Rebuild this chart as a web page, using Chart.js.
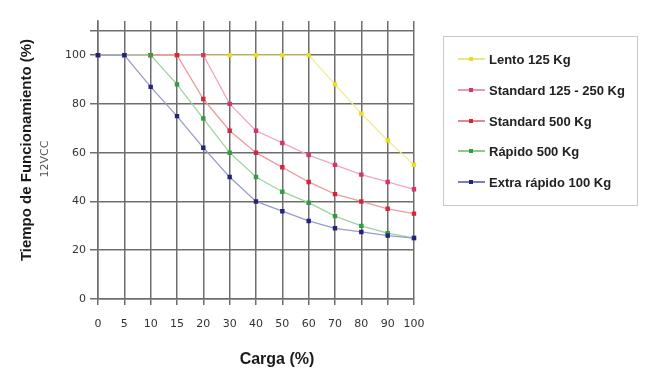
<!DOCTYPE html>
<html>
<head>
<meta charset="utf-8">
<script src="https://cdn.jsdelivr.net/npm/chart.js@4"></script>
<style>
  body { margin: 0; background: #fff; }
  #wrap { position: relative; width: 650px; height: 381px; }
  #legend {
    position: absolute; left: 443px; top: 36px; width: 195px; height: 170px;
    border: 1px solid #c8c8c8; box-sizing: border-box;
    font: bold 13px "Liberation Sans", Arial, sans-serif; color: #222;
  }
  .item { position: absolute; left: 14px; height: 16px; display: flex; align-items: center; }
  .mark { position: relative; width: 27px; height: 16px; margin-right: 4px; }
  .mark .ln { position: absolute; left: 0; right: 0; top: 7px; height: 2px; }
  .mark .dot { position: absolute; left: 11px; top: 6px; width: 4px; height: 4px; }
</style>
</head>
<body>
<div id="wrap">
  <canvas id="chart" width="650" height="381"></canvas>
  <div id="legend"></div>
</div>
<script>
// carga (%) categories
const cargaLabels = ['0', '5', '10', '15', '20', '30', '40', '50', '60', '70', '80', '90', '100'];

// tiempo de funcionamiento (%) per series
const lento125 = [100, 100, 100, 100, 100, 100, 100, 100, 100, 88, 76, 65, 55];
const standard125_250 = [100, 100, 100, 100, 100, 80, 69, 64, 59, 55, 51, 48, 45];
const standard500 = [100, 100, 100, 100, 82, 69, 60, 54, 48, 43, 40, 37, 35];
const rapido500 = [100, 100, 100, 88, 74, 60, 50, 44, 39.5, 34, 30, 27, 25];
const extraRapido100 = [100, 100, 87, 75, 62, 50, 40, 36, 32, 29, 27.5, 26, 25];

const yTicks = [0, 20, 40, 60, 80, 100];

const seriesNames = ['Lento 125 Kg', 'Standard 125 - 250 Kg', 'Standard 500 Kg', 'Rápido 500 Kg', 'Extra rápido 100 Kg'];
const seriesData = [lento125, standard125_250, standard500, rapido500, extraRapido100];
const lineColors = ['#f2ec8c', '#f2a6c4', '#ef9aa0', '#9fd39f', '#9a9ad0'];
const pointColors = ['#f0dc1e', '#d6336f', '#d8243a', '#2f9e3f', '#23237e'];
const legendLineColors = ['#ece684', '#e49ab8', '#e08890', '#90c890', '#7c7cbc'];

const gridColor = '#6e6e6e';

// extra texts not covered by the scale options
const textPlugin = {
    id: 'texts',
    afterDraw(chart) {
        const ctx = chart.ctx;
        ctx.save();
        ctx.textAlign = 'center';
        ctx.textBaseline = 'middle';

        ctx.fillStyle = '#1a1a1a';
        ctx.font = 'bold 16px "Liberation Sans", Arial, sans-serif';
        ctx.fillText('Carga (%)', 277, 360);

        ctx.translate(27, 150);
        ctx.rotate(-Math.PI / 2);
        ctx.font = 'bold 15px "Liberation Sans", Arial, sans-serif';
        ctx.fillText('Tiempo de Funcionamiento (%)', 0, 0);
        ctx.restore();

        ctx.save();
        ctx.translate(45, 159);
        ctx.rotate(-Math.PI / 2);
        ctx.textAlign = 'center';
        ctx.textBaseline = 'middle';
        ctx.fillStyle = '#555';
        ctx.font = '11px "DejaVu Sans", sans-serif';
        ctx.fillText('12VCC', 0, 0);
        ctx.restore();
    }
};

const ctx = document.getElementById('chart').getContext('2d');

new Chart(ctx, {
    type: 'line',
    data: {
        labels: cargaLabels,
        datasets: seriesData.map((d, i) => ({
            label: seriesNames[i],
            data: d,
            borderColor: lineColors[i],
            backgroundColor: pointColors[i],
            pointBackgroundColor: pointColors[i],
            pointBorderColor: pointColors[i],
            pointStyle: 'rect',
            pointRadius: 2.2,
            borderWidth: 1.3,
            tension: 0,
            fill: false,
            order: seriesData.length - i, // extra rápido drawn on top
        })),
    },
    options: {
        responsive: false,
        animation: false,
        layout: { padding: { top: 21, right: 236, left: 0, bottom: 0 } },
        plugins: {
            legend: { display: false },
            tooltip: { enabled: false },
        },
        scales: {
            x: {
                type: 'category',
                offset: false,
                grid: { color: gridColor, lineWidth: 1.5, tickLength: 6, tickColor: gridColor },
                border: { color: gridColor, width: 1.5 },
                ticks: {
                    color: '#333',
                    font: { family: '"DejaVu Sans", sans-serif', size: 11 },
                    padding: 13,
                    maxRotation: 0,
                    autoSkip: false,
                },
                afterFit(scale) { scale.height = 82; },
            },
            y: {
                min: 0,
                max: 114,
                afterBuildTicks(scale) {
                    scale.ticks = yTicks.concat([110]).map(v => ({ value: v }));
                },
                grid: { color: gridColor, lineWidth: 1.5, tickLength: 8, tickColor: gridColor },
                border: { color: gridColor, width: 1.5 },
                ticks: {
                    color: '#333',
                    font: { family: '"DejaVu Sans", sans-serif', size: 11 },
                    padding: 4,
                    callback: v => (v === 110 ? '' : v),
                },
                afterFit(scale) { scale.width = 98; },
            },
        },
    },
    plugins: [textPlugin],
});

// legend box
const legendEl = document.getElementById('legend');
const itemTops = [14, 45, 76, 106, 137];
seriesNames.forEach((name, i) => {
    const item = document.createElement('div');
    item.className = 'item';
    item.style.top = itemTops[i] + 'px';
    item.innerHTML =
        '<div class="mark"><div class="ln" style="background:' + legendLineColors[i] + '"></div>' +
        '<div class="dot" style="background:' + pointColors[i] + '"></div></div>' +
        '<span>' + name + '</span>';
    legendEl.appendChild(item);
});
</script>
</body>
</html>
